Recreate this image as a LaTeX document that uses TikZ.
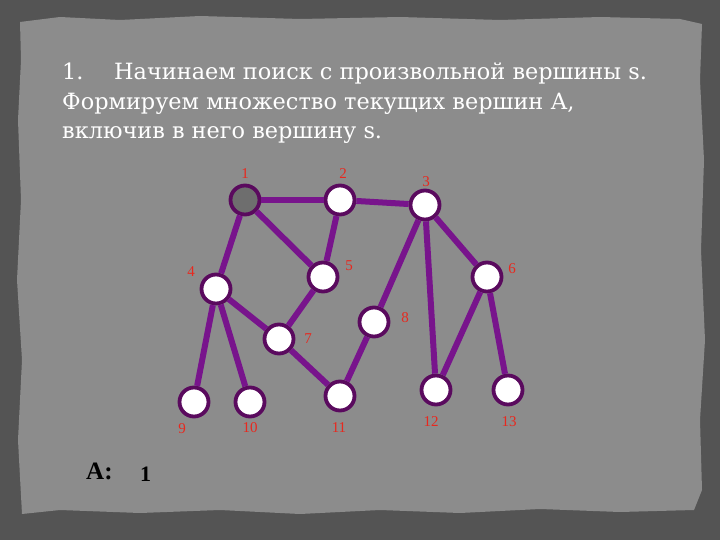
\documentclass[tikz,border=0pt]{standalone}
\usepackage{fontspec}
\setmainfont{Liberation Serif}
\newfontfamily\headfont{DejaVu Serif}
\definecolor{frame}{HTML}{545454}
\definecolor{paper}{HTML}{8C8C8C}
\definecolor{edgec}{HTML}{78148C}
\definecolor{ringc}{HTML}{5A0A5E}
\definecolor{labc}{HTML}{E8281E}
\definecolor{startc}{HTML}{6E6E6E}
\tikzset{
  vert/.style={circle, minimum size=29pt, inner sep=0pt, fill=white, draw=ringc, line width=3.8pt},
  edg/.style={draw=edgec, line width=6pt},
  lab/.style={text=labc, font=\fontsize{15}{15}\selectfont, inner sep=0pt},
  head/.style={text=white, font=\headfont\fontsize{22.4}{22.4}\selectfont, inner sep=0pt, anchor=base west},
}
\begin{document}
\begin{tikzpicture}[x=1pt,y=-1pt]
\useasboundingbox (0,0) rectangle (720,540);
\fill[frame] (0,0) rectangle (720,540);
\fill[paper] (20,22) -- (60,17) -- (120,20) -- (200,16) -- (300,19) -- (400,17) -- (500,20) -- (600,17) -- (680,19) -- (702,24)
  -- (700,80) -- (704,160) -- (701,250) -- (705,340) -- (700,420) -- (702,490) -- (694,510)
  -- (620,512) -- (540,509) -- (460,513) -- (380,510) -- (300,514) -- (220,510) -- (140,513) -- (60,510) -- (22,514)
  -- (18,440) -- (22,360) -- (17,280) -- (21,200) -- (18,120) -- (21,60) -- cycle;
% heading
\node[head] (h0) at (62,80) {1.};
\node[head] (h1) at (114,80) {Начинаем поиск с произвольной вершины s.};
\node[head] (h2) at (62,110) {Формируем множество текущих вершин А,};
\node[head] (h3) at (62,139) {включив в него вершину s.};
% vertices
\node[vert, fill=startc] (n1) at (245,200) {};
\node[vert] (n2) at (340,200) {};
\node[vert] (n3) at (425,205) {};
\node[vert] (n4) at (216,289) {};
\node[vert] (n5) at (323,277) {};
\node[vert] (n6) at (487,277) {};
\node[vert] (n7) at (279,339) {};
\node[vert] (n8) at (374,322) {};
\node[vert] (n9) at (194,402) {};
\node[vert] (n10) at (250,402) {};
\node[vert] (n11) at (340,396) {};
\node[vert] (n12) at (436,390) {};
\node[vert] (n13) at (508,390) {};
% edges
\draw[edg] (n1) -- (n2);
\draw[edg] (n2) -- (n3);
\draw[edg] (n1) -- (n4);
\draw[edg] (n1) -- (n5);
\draw[edg] (n2) -- (n5);
\draw[edg] (n4) -- (n7);
\draw[edg] (n5) -- (n7);
\draw[edg] (n3) -- (n8);
\draw[edg] (n3) -- (n12);
\draw[edg] (n3) -- (n6);
\draw[edg] (n6) -- (n12);
\draw[edg] (n6) -- (n13);
\draw[edg] (n4) -- (n9);
\draw[edg] (n4) -- (n10);
\draw[edg] (n7) -- (n11);
\draw[edg] (n8) -- (n11);
% labels
\node[lab] (l1) at (245,174) {1};
\node[lab] (l2) at (343,174) {2};
\node[lab] (l3) at (426,182) {3};
\node[lab] (l4) at (191,272) {4};
\node[lab] (l5) at (349,266) {5};
\node[lab] (l6) at (512,269) {6};
\node[lab] (l7) at (308,339) {7};
\node[lab] (l8) at (405,318) {8};
\node[lab] (l9) at (182,429) {9};
\node[lab] (l10) at (250,428) {10};
\node[lab] (l11) at (339,428) {11};
\node[lab] (l12) at (431,422) {12};
\node[lab] (l13) at (509,422) {13};
% set A
\node[font=\fontsize{25}{25}\selectfont\bfseries, inner sep=0pt, anchor=base west] (A) at (86,479) {A:};
\node[font=\fontsize{22}{22}\selectfont\bfseries, inner sep=0pt, anchor=base west] (a1) at (140,481) {1};
\end{tikzpicture}
\end{document}
